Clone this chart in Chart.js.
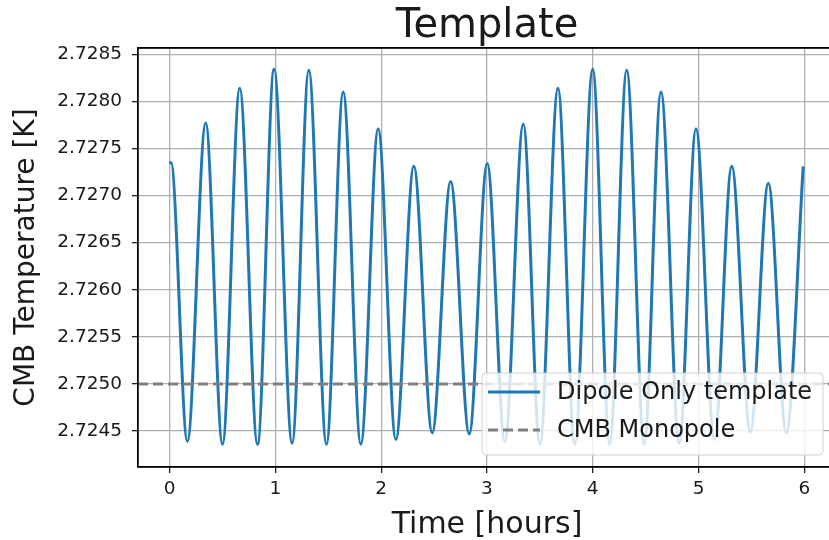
<!DOCTYPE html>
<html>
<head>
<meta charset="utf-8">
<script src="https://cdn.jsdelivr.net/npm/chart.js@4.4.1/dist/chart.umd.min.js"></script>
<style>
  html, body { margin: 0; padding: 0; background: #ffffff; overflow: hidden; width: 829px; height: 540px; }
  #wrap { position: absolute; left: 0; top: 0; width: 840px; height: 540px; }
  canvas { display: block; }
</style>
</head>
<body>
<div id="wrap"><canvas id="c" width="840" height="540"></canvas></div>
<script>
// ---- Data ----
// Times (hours) of the turning points of the dipole template curve
const timeHours = [
  0, 0.012, 0.167, 0.340, 0.499, 0.662, 0.830, 0.987, 1.157, 1.315, 1.482, 1.640, 1.807,
  1.971, 2.138, 2.308, 2.482, 2.656, 2.832, 3.002, 3.169, 3.343, 3.500, 3.671,
  3.830, 3.999, 4.160, 4.321, 4.487, 4.645, 4.818, 4.976, 5.150, 5.314, 5.490,
  5.660, 5.830, 5.990
];
// CMB temperature (K) at those times
const dipoleTemp = [
  2.72734, 2.72735, 2.72439, 2.72777, 2.72436, 2.72814, 2.72436, 2.72834, 2.72437, 2.72833, 2.72436, 2.72810, 2.72436,
  2.72771, 2.72441, 2.72731, 2.72448, 2.72715, 2.72447, 2.72734, 2.72439, 2.72776, 2.72436, 2.72814,
  2.72436, 2.72834, 2.72436, 2.72833, 2.72436, 2.72810, 2.72437, 2.72771, 2.72441, 2.72731, 2.72449,
  2.72713, 2.72448, 2.72731
];
const monopoleTemp = 2.7250;
const xTickValues = [0, 1, 2, 3, 4, 5, 6];
const yTickValues = [2.7245, 2.7250, 2.7255, 2.7260, 2.7265, 2.7270, 2.7275, 2.7280, 2.7285];
const seriesLabels = ['Dipole Only template', 'CMB Monopole'];
const chartTitle = 'Template';
const xAxisTitle = 'Time [hours]';
const yAxisTitle = 'CMB Temperature [K]';

// ---- Layout / style ----
const X_MIN = -0.3, X_MAX = 6.3;
const Y_MIN = 2.724118, Y_MAX = 2.728566;
const FONT = 'DejaVu Sans';
const TEXT = '#1a1a1a';
const GRID = '#b0b0b0';

const dipolePoints = timeHours.map((t, i) => ({ x: t, y: dipoleTemp[i] }));
const monopolePoints = [{ x: X_MIN, y: monopoleTemp }, { x: X_MAX, y: monopoleTemp }];

const spines = {
  id: 'spines',
  afterDatasetsDraw(chart) {
    const { ctx, chartArea } = chart;
    ctx.save();
    ctx.strokeStyle = '#000';
    ctx.lineWidth = 1.3;
    ctx.beginPath();
    ctx.moveTo(chartArea.right, chartArea.top);
    ctx.lineTo(chartArea.left, chartArea.top);
    ctx.lineTo(chartArea.left, chartArea.bottom);
    ctx.lineTo(chartArea.right, chartArea.bottom);
    ctx.stroke();
    ctx.restore();
  }
};

const boxLegend = {
  id: 'boxLegend',
  afterDraw(chart) {
    const { ctx, chartArea } = chart;
    const ds = chart.data.datasets;
    const right = chartArea.right - 13, bottom = chartArea.bottom - 12;
    const w = 341, h = 82;
    const left = right - w, top = bottom - h;
    ctx.save();
    ctx.beginPath();
    ctx.roundRect(left, top, w, h, 4);
    ctx.fillStyle = 'rgba(255,255,255,0.8)';
    ctx.fill();
    ctx.strokeStyle = 'rgba(204,204,204,0.9)';
    ctx.lineWidth = 1;
    ctx.stroke();
    ctx.font = '24px "' + FONT + '"';
    ctx.textBaseline = 'middle';
    ctx.textAlign = 'left';
    ds.forEach((d, i) => {
      const y = top + 19 + i * 38;
      ctx.beginPath();
      ctx.strokeStyle = d.borderColor;
      ctx.lineWidth = d.borderWidth;
      ctx.setLineDash(d.borderDash || []);
      ctx.moveTo(left + 6, y);
      ctx.lineTo(left + 58, y);
      ctx.stroke();
      ctx.setLineDash([]);
      ctx.fillStyle = TEXT;
      ctx.fillText(d.label, left + 75, y + 1);
    });
    ctx.restore();
  }
};

new Chart(document.getElementById('c'), {
  type: 'line',
  data: {
    datasets: [
      {
        label: seriesLabels[0],
        data: dipolePoints,
        borderColor: '#1f77b4',
        borderWidth: 3,
        pointRadius: 0,
        cubicInterpolationMode: 'monotone',
        fill: false,
        order: 1
      },
      {
        label: seriesLabels[1],
        data: monopolePoints,
        borderColor: '#808080',
        borderWidth: 3,
        borderDash: [10, 5],
        pointRadius: 0,
        fill: false,
        order: 0
      }
    ]
  },
  options: {
    responsive: false,
    animation: false,
    devicePixelRatio: 1,
    layout: { padding: { left: 0, right: 4, top: 0, bottom: 0 } },
    plugins: {
      legend: { display: false },
      tooltip: { enabled: false },
      title: { display: false }
    },
    scales: {
      xTop: {
        type: 'linear',
        position: 'top',
        min: X_MIN,
        max: X_MAX,
        afterFit(scale) { scale.height = 48; },
        grid: { display: false, drawTicks: false },
        border: { display: true, color: '#000', width: 1.3 },
        ticks: { display: false },
        title: {
          display: true,
          text: chartTitle,
          color: TEXT,
          font: { family: FONT, size: 40, lineHeight: 1.1 },
          padding: { top: 5, bottom: 0 }
        }
      },
      x: {
        type: 'linear',
        position: 'bottom',
        min: X_MIN,
        max: X_MAX,
        afterBuildTicks(scale) { scale.ticks = xTickValues.map(v => ({ value: v })); },
        afterFit(scale) { scale.height = 73; },
        grid: { color: GRID, lineWidth: 1.3, tickColor: '#222', tickLength: 6, drawTicks: true },
        border: { display: true, color: '#000', width: 1.3 },
        ticks: {
          color: TEXT,
          font: { family: FONT, size: 18.5 },
          padding: 5,
          maxRotation: 0,
          callback: v => String(v)
        },
        title: {
          display: true,
          text: xAxisTitle,
          color: TEXT,
          font: { family: FONT, size: 30, lineHeight: 1.0 },
          padding: { top: 0, bottom: 0 }
        }
      },
      y: {
        type: 'linear',
        min: Y_MIN,
        max: Y_MAX,
        afterBuildTicks(scale) { scale.ticks = yTickValues.map(v => ({ value: v })); },
        afterFit(scale) { scale.width = 138; },
        grid: { color: GRID, lineWidth: 1.3, tickColor: '#222', tickLength: 6, drawTicks: true },
        border: { display: true, color: '#000', width: 1.3 },
        ticks: {
          color: TEXT,
          font: { family: FONT, size: 18.5 },
          padding: 10,
          callback: v => Number(v).toFixed(4)
        },
        title: {
          display: true,
          text: yAxisTitle,
          color: TEXT,
          font: { family: FONT, size: 28 },
          padding: { top: 10, bottom: 0 }
        }
      }
    }
  },
  plugins: [spines, boxLegend]
});
</script>
</body>
</html>
